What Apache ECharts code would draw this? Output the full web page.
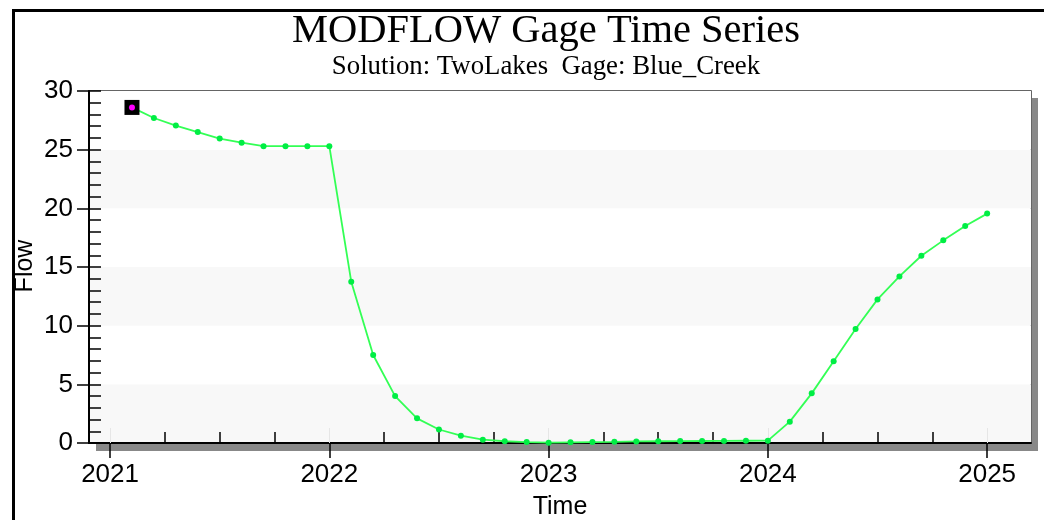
<!DOCTYPE html>
<html>
<head>
<meta charset="utf-8">
<script src="https://cdn.jsdelivr.net/npm/echarts@6/dist/echarts.min.js"></script>
<style>
html,body{margin:0;padding:0;background:#fff;}
#chart{width:1044px;height:520px;}
</style>
</head>
<body>
<div id="chart"></div>
<script>
var titleText = 'MODFLOW Gage Time Series';
var subtitleText = 'Solution: TwoLakes  Gage: Blue_Creek';
var xName = 'Time';
var yName = 'Flow';

var times = [2021.1, 2021.2, 2021.3, 2021.4, 2021.5, 2021.6, 2021.7, 2021.8, 2021.9, 2022.0,
             2022.1, 2022.2, 2022.3, 2022.4, 2022.5, 2022.6, 2022.7, 2022.8, 2022.9, 2023.0,
             2023.1, 2023.2, 2023.3, 2023.4, 2023.5, 2023.6, 2023.7, 2023.8, 2023.9, 2024.0,
             2024.1, 2024.2, 2024.3, 2024.4, 2024.5, 2024.6, 2024.7, 2024.8, 2024.9, 2025.0];
var flow = [28.6, 27.7, 27.05, 26.5, 25.95, 25.6, 25.3, 25.3, 25.3, 25.3,
            13.75, 7.5, 4.0, 2.1, 1.15, 0.62, 0.28, 0.15, 0.08, 0.03,
            0.06, 0.08, 0.1, 0.13, 0.15, 0.16, 0.17, 0.18, 0.19, 0.2,
            1.82, 4.23, 6.96, 9.72, 12.24, 14.2, 15.96, 17.27, 18.49, 19.55];

var yearTicks = [2021, 2022, 2023, 2024, 2025];
var quarterTicks = [2021.25, 2021.5, 2021.75, 2022.25, 2022.5, 2022.75, 2023.25, 2023.5, 2023.75,
                    2024.25, 2024.5, 2024.75];
var xMin = 2020.904, xMax = 2025.2;
var yMin = 0, yMax = 30, yMajor = 5, yMinor = 1;

var selectedIndex = 0;

var chart = echarts.init(document.getElementById('chart'), null, {renderer: 'canvas'});

var sansFont = 'Liberation Sans, Arial, sans-serif';
var serifFont = 'Liberation Serif, Times New Roman, serif';

var pts = times.map(function (t, i) { return [t, flow[i]]; });

var G = {left: 89, top: 91, right: 1031, bottom: 443};

var option = {
  animation: false,
  backgroundColor: '#ffffff',
  grid: {
    left: G.left, top: G.top, right: 1044 - G.right, bottom: 520 - G.bottom,
    show: true, borderColor: '#333333', borderWidth: 1.5, backgroundColor: '#ffffff'
  },
  graphic: [
    {type: 'rect', shape: {x: G.left + 7, y: G.bottom + 1, width: G.right - G.left, height: 7}, style: {fill: '#888888'}, z: -5},
    {type: 'rect', shape: {x: G.right + 1, y: G.top + 7, width: 6, height: G.bottom - G.top + 1}, style: {fill: '#888888'}, z: -5},
    {type: 'rect', shape: {x: 12, y: 9, width: 3, height: 520}, style: {fill: '#000000'}},
    {type: 'rect', shape: {x: 12, y: 9, width: 1044, height: 3}, style: {fill: '#000000'}},
    {type: 'text', x: 546, y: 31, style: {text: titleText, font: '40.5px ' + serifFont, fill: '#000', textAlign: 'center', textVerticalAlign: 'middle'}},
    {type: 'text', x: 546, y: 67, style: {text: subtitleText, font: '26.8px ' + serifFont, fill: '#000', textAlign: 'center', textVerticalAlign: 'middle'}},
    {type: 'text', x: 560, y: 507, style: {text: xName, font: '25px ' + sansFont, fill: '#000', textAlign: 'center', textVerticalAlign: 'middle'}},
    {type: 'text', x: 25, y: 266, rotation: Math.PI / 2, style: {text: yName, font: '25px ' + sansFont, fill: '#000', textAlign: 'center', textVerticalAlign: 'middle'}}
  ],
  xAxis: [
    {
      type: 'value', position: 'bottom', min: xMin, max: xMax,
      axisLine: {show: true, onZero: false, lineStyle: {color: '#000', width: 2}},
      axisTick: {show: true, customValues: yearTicks, length: 15, inside: false, lineStyle: {color: '#000', width: 1.5}},
      axisLabel: {show: true, customValues: yearTicks, margin: 19, fontSize: 26, fontFamily: sansFont, color: '#000',
                  formatter: function (v) { return String(Math.round(v)); }},
      splitLine: {show: false}
    },
    {
      type: 'value', position: 'bottom', min: xMin, max: xMax,
      axisLine: {show: false, onZero: false},
      axisTick: {show: true, customValues: quarterTicks, length: 11, inside: true, lineStyle: {color: '#000', width: 1.5}},
      axisLabel: {show: false},
      splitLine: {show: false}
    },
    {
      type: 'value', position: 'bottom', min: xMin, max: xMax,
      axisLine: {show: false, onZero: false},
      axisTick: {show: true, customValues: yearTicks, length: 15, inside: true, lineStyle: {color: '#e6e6e6', width: 1}},
      axisLabel: {show: false},
      splitLine: {show: false}
    }
  ],
  yAxis: [
    {
      type: 'value', position: 'left', min: yMin, max: yMax, interval: yMajor,
      axisLine: {show: true, onZero: false, lineStyle: {color: '#000', width: 2}},
      axisTick: {show: true, length: 12, inside: false, lineStyle: {color: '#000', width: 1.5}},
      axisLabel: {show: true, margin: 16, fontSize: 26, fontFamily: sansFont, color: '#000'},
      splitLine: {show: false},
      splitArea: {show: true, areaStyle: {color: ['#f8f8f8', '#ffffff']}}
    },
    {
      type: 'value', position: 'left', min: yMin, max: yMax, interval: yMinor,
      axisLine: {show: false, onZero: false},
      axisTick: {show: true, length: 12, inside: true, lineStyle: {color: '#000', width: 1.5}},
      axisLabel: {show: false},
      splitLine: {show: false}
    }
  ],
  series: [
    {
      type: 'line', xAxisIndex: 0, yAxisIndex: 0, data: pts,
      symbol: 'circle', symbolSize: 6, showSymbol: true,
      lineStyle: {color: '#33ff55', width: 1.8},
      itemStyle: {color: '#00ee44', opacity: 1},
      z: 3
    },
    {
      type: 'scatter', xAxisIndex: 0, yAxisIndex: 0, data: [pts[selectedIndex]],
      symbol: 'rect', symbolSize: 15, itemStyle: {color: '#000000', opacity: 1}, z: 4
    },
    {
      type: 'scatter', xAxisIndex: 0, yAxisIndex: 0, data: [pts[selectedIndex]],
      symbol: 'circle', symbolSize: 6, itemStyle: {color: '#ff00ff', opacity: 1}, z: 5
    }
  ]
};
chart.setOption(option);
</script>
</body>
</html>
